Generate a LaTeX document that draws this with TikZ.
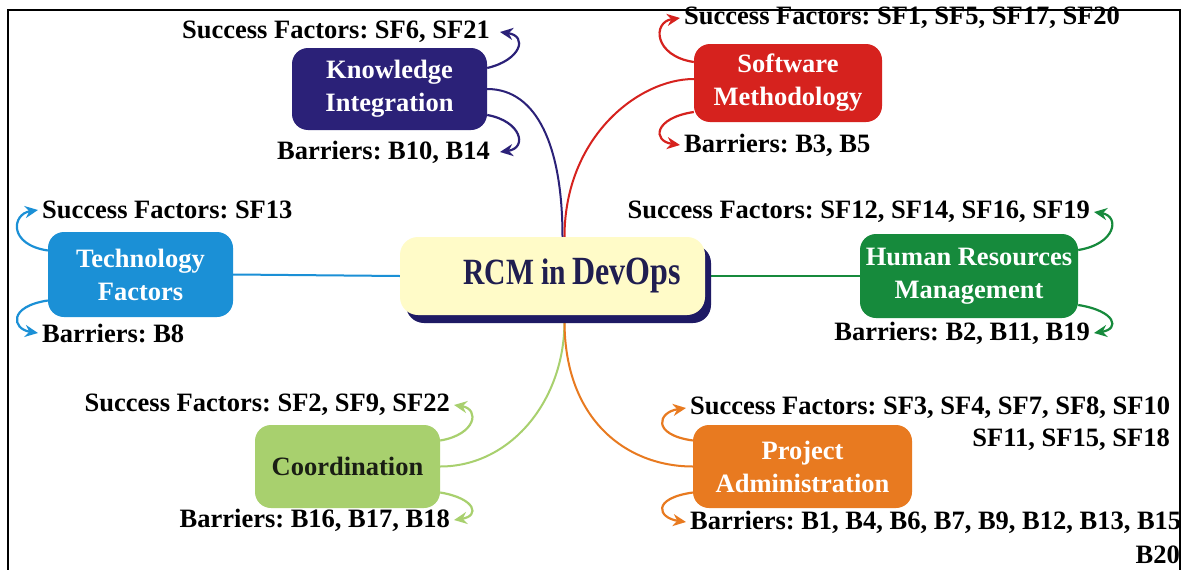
\documentclass[tikz,border=0pt]{standalone}
\usepackage{fontspec}
\setmainfont{Liberation Serif}
\newfontfamily\ctrfont[FakeStretch=0.8]{Liberation Serif}
\usetikzlibrary{arrows.meta,shadows}
\pgfdeclarelayer{bg}
\pgfsetlayers{bg,main}
\frenchspacing
\definecolor{kinavy}{RGB}{43,33,120}
\definecolor{smred}{RGB}{214,34,30}
\definecolor{tfblue}{RGB}{27,144,214}
\definecolor{hrgreen}{RGB}{22,138,60}
\definecolor{colight}{RGB}{168,208,110}
\definecolor{paorange}{RGB}{232,122,32}
\definecolor{ctryellow}{RGB}{255,251,200}
\definecolor{shadownavy}{RGB}{30,26,100}
\definecolor{ctrtext}{RGB}{32,30,80}
\definecolor{codark}{RGB}{26,30,20}
\tikzset{
  lbl/.style={inner sep=0pt, font=\fontsize{26.5}{32}\selectfont\bfseries, text=black},
  boxstyle/.style={rounded corners=16pt, inner sep=2pt, align=center, text=white,
     font=\fontsize{26.5}{33}\selectfont\bfseries},
  conn/.style={line width=2pt},
  arr/.style={line width=2.2pt, -{Stealth[length=13pt,width=12pt]}},
}
\begin{document}
\begin{tikzpicture}[x=1pt,y=-1pt]
\useasboundingbox (0,0) rectangle (1186,570);

% boxes
\node[boxstyle, fill=kinavy, minimum width=195pt, minimum height=82pt] (ki) at (389.5,89) {Knowledge\\Integration};
\node[boxstyle, fill=smred, minimum width=188pt, minimum height=78pt] (sm) at (788,83) {Software\\Methodology};
\node[boxstyle, fill=tfblue, minimum width=185pt, minimum height=85pt] (tf) at (140.5,274.5) {Technology\\Factors};
\node[boxstyle, fill=hrgreen, minimum width=218pt, minimum height=84pt] (hr) at (969,276) {Human Resources\\Management};
\node[boxstyle, fill=colight, text=codark, minimum width=185pt, minimum height=83pt] (co) at (347.5,466.5) {Coordination};
\node[boxstyle, fill=paorange, minimum width=219pt, minimum height=83pt] (pa) at (802.5,466.5) {Project\\Administration};

% centre box
\node[rounded corners=18pt, fill=ctryellow, minimum width=305pt, minimum height=78pt,
      drop shadow={shadow xshift=6pt, shadow yshift=-8pt, fill=shadownavy, opacity=1}] (ctr) at (552.5,276) {};
\node[inner sep=0pt, text=ctrtext] (ctrlabel) at (572,276)
  {\ctrfont\bfseries{\fontsize{37}{40}\selectfont RCM in}\hspace{6pt}{\fontsize{40}{40}\selectfont DevOps}};

% labels
\node[lbl, anchor=east] (sfki) at (490,32) {Success Factors: SF6, SF21};
\node[lbl, anchor=east] (bki) at (490,152) {Barriers: B10, B14};
\node[lbl, anchor=west] (sfsm) at (684,18) {Success Factors: SF1, SF5, SF17, SF20};
\node[lbl, anchor=west] (bsm) at (684,145) {Barriers: B3, B5};
\node[lbl, anchor=west] (sftf) at (42,210) {Success Factors: SF13};
\node[lbl, anchor=west] (btf) at (42,333) {Barriers: B8};
\node[lbl, anchor=east] (sfhr) at (1090,212) {Success Factors: SF12, SF14, SF16, SF19};
\node[lbl, anchor=east] (bhr) at (1090,333) {Barriers: B2, B11, B19};
\node[lbl, anchor=east] (sfco) at (450,405) {Success Factors: SF2, SF9, SF22};
\node[lbl, anchor=east] (bco) at (450,520) {Barriers: B16, B17, B18};
\node[lbl, anchor=west] (sfpa) at (690,408) {Success Factors: SF3, SF4, SF7, SF8, SF10};
\node[lbl, anchor=east] (sfpa2) at (1170,440) {SF11, SF15, SF18};
\node[lbl, anchor=west] (bpa) at (690,522) {Barriers: B1, B4, B6, B7, B9, B12, B13, B15};
\node[lbl, anchor=east] (bpa2) at (1180,555) {B20};

% connectors to centre (behind boxes)
\begin{pgfonlayer}{bg}
\fill[white] (0,0) rectangle (1186,570);
\draw[conn, kinavy] (ki.east) .. controls +(50,0) and +(0,-90) .. ([xshift=10pt]ctr.north);
\draw[conn, smred] ([xshift=12pt]ctr.north) .. controls +(0,-100) and +(-55,0) .. ([yshift=4pt]sm.west);
\draw[conn, tfblue] (tf.east) -- (ctr.west);
\draw[conn, hrgreen] ([xshift=6pt]ctr.east) -- (hr.west);
\draw[conn, colight] (co.east) .. controls +(70,0) and +(0,80) .. ([xshift=12pt,yshift=-6pt]ctr.south);
\draw[conn, paorange] ([xshift=12pt,yshift=-6pt]ctr.south) .. controls +(0,100) and +(-65,0) .. (pa.west);
\end{pgfonlayer}

% curved arrows to labels
\draw[arr, kinavy] ([yshift=21pt]ki.east) .. controls +(34,-8) and +(28,4) .. ([xshift=10pt]sfki.east);
\draw[arr, kinavy] ([yshift=-26pt]ki.east) .. controls +(34,6) and +(28,-4) .. ([xshift=10pt]bki.east);
\draw[arr, smred] ([yshift=21pt]sm.west) .. controls +(-40,-6) and +(-28,4) .. ([xshift=-4pt]sfsm.west);
\draw[arr, smred] ([yshift=-29pt]sm.west) .. controls +(-40,6) and +(-28,-4) .. ([xshift=-4pt]bsm.west);
\draw[arr, tfblue] ([yshift=24pt]tf.west) .. controls +(-40,-6) and +(-26,4) .. ([xshift=-4pt]sftf.west);
\draw[arr, tfblue] ([yshift=-26pt]tf.west) .. controls +(-40,6) and +(-26,-4) .. ([xshift=-4pt]btf.west);
\draw[arr, hrgreen] ([yshift=26pt]hr.east) .. controls +(38,-6) and +(26,4) .. ([xshift=4pt]sfhr.east);
\draw[arr, hrgreen] ([yshift=-29pt]hr.east) .. controls +(38,6) and +(26,-4) .. ([xshift=4pt]bhr.east);
\draw[arr, colight] ([yshift=26pt]co.east) .. controls +(36,-6) and +(26,4) .. ([xshift=4pt]sfco.east);
\draw[arr, colight] ([yshift=-26pt]co.east) .. controls +(36,6) and +(26,-4) .. ([xshift=4pt]bco.east);
\draw[arr, paorange] ([yshift=26pt]pa.west) .. controls +(-42,-6) and +(-28,4) .. ([xshift=-4pt]sfpa.west);
\draw[arr, paorange] ([yshift=-26pt]pa.west) .. controls +(-42,6) and +(-28,-4) .. ([xshift=-4pt]bpa.west);

% frame
\draw[line width=2pt, black] (8,570) -- (8,10) -- (1180,10) -- (1180,570);
\end{tikzpicture}
\end{document}
